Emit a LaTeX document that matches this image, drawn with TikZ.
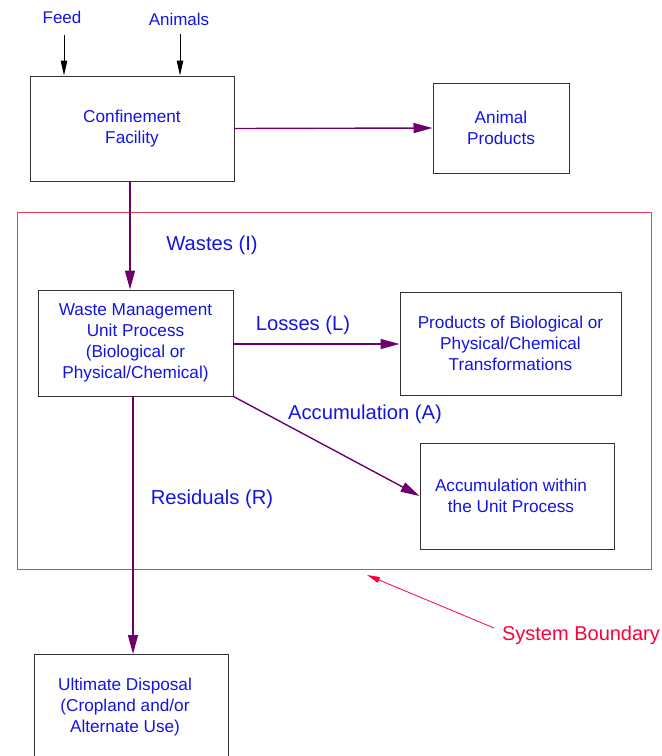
\documentclass[tikz,border=0pt]{standalone}
\usepackage{fontspec}
\setmainfont{Liberation Sans}
\usetikzlibrary{arrows.meta}
\definecolor{txtblue}{RGB}{20,20,225}
\definecolor{flowpurple}{RGB}{110,0,110}
\definecolor{boundred}{RGB}{240,60,90}
\definecolor{labred}{RGB}{250,0,60}
\tikzset{
  box/.style={draw=black!80, line width=1pt, inner sep=0pt, text=txtblue, align=center,
    font=\fontsize{17.2}{21}\selectfont},
  boxtext/.style={text=txtblue, align=center, font=\fontsize{17.2}{21}\selectfont, inner sep=0pt},
  flow/.style={draw=flowpurple, line width=1.4pt, -{Triangle[length=19pt,width=10pt]}, flowpurple},
  inflow/.style={draw=black, line width=1pt, -{Triangle[length=15pt,width=6.5pt]}},
  lab/.style={text=txtblue, font=\fontsize{20.2}{23}\selectfont, inner sep=0pt},
  toplab/.style={text=txtblue, font=\fontsize{17}{20}\selectfont, inner sep=0pt},
}
\begin{document}
\begin{tikzpicture}[x=1pt,y=-1pt]
\useasboundingbox (0,0) rectangle (662,756);
\clip (0,0) rectangle (662,756);
% top inputs
\node[toplab] (feed) at (62,17) {Feed};
\node[toplab] (animals) at (179,19) {Animals};
% boxes
\node[box, minimum width=204pt, minimum height=105pt] (conf) at (132,128.5) {Confinement\\Facility};
\node[box, minimum width=136pt, minimum height=90pt] (prod) at (501,128) {Animal\\Products};
\node[box, minimum width=195pt, minimum height=106pt] (wm) at (135.5,343) {Waste Management\\Unit Process\\(Biological or\\Physical/Chemical)};
\node[box, minimum width=221pt, minimum height=103pt] (trans) at (510.5,343.5) {Products of Biological or\\Physical/Chemical\\Transformations};
\node[box, minimum width=194pt, minimum height=106pt] (acc) at (517,496) {};
\node[boxtext] (acctext) at (511,496) {Accumulation within\\the Unit Process};
\node[box, minimum width=194pt, minimum height=140pt, anchor=north] (ult) at (131,654) {};
\node[boxtext] (ulttext) at (125,707) {Ultimate Disposal\\(Cropland and/or\\Alternate Use)};
% system boundary
\node[draw=boundred, line width=1pt, minimum width=634pt, minimum height=357pt, inner sep=0pt] (sys) at (334,390.5) {};
\node[text=labred, font=\fontsize{20}{23}\selectfont, inner sep=0pt] (syslab) at (581,635) {System Boundary};
\coordinate (systail) at (494,628);
\coordinate (syshead) at (367,575);
\draw[draw=labred, line width=0.8pt, -{Triangle[length=13pt,width=6pt]}, labred] (systail) -- (syshead);
% input arrows
\coordinate (feedtop) at (64,35);
\coordinate (animtop) at (180,34);
\draw[inflow] (feedtop) -- (feedtop |- conf.north);
\draw[inflow] (animtop) -- (animtop |- conf.north);
% flows
\draw[flow] (conf.east) -- (prod.west);
\coordinate (wastetop) at (130,181);
\draw[flow] (wastetop) -- (wastetop |- wm.north);
\node[lab] (wlab) at (212,245) {Wastes (I)};
\coordinate (lossfrom) at (233,344);
\draw[flow] (lossfrom) -- (lossfrom -| trans.west);
\node[lab] (llab) at (303,325) {Losses (L)};
\draw[flow] (wm.south east) -- (acc.west);
\node[lab] (alab) at (365,414) {Accumulation (A)};
\coordinate (resfrom) at (133,396);
\draw[flow] (resfrom) -- (resfrom |- ult.north);
\node[lab] (rlab) at (212,499) {Residuals (R)};
\end{tikzpicture}
\end{document}
